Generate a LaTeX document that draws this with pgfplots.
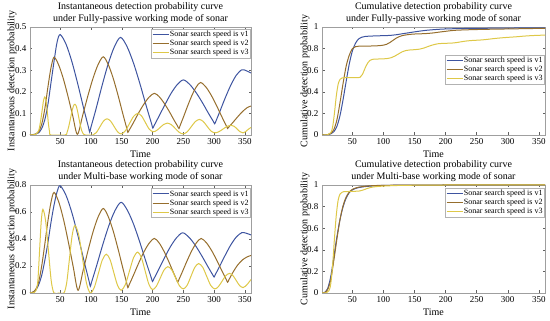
\documentclass[border=0pt]{standalone}
\usepackage{pgfplots}
\pgfplotsset{compat=1.18}
\usepackage{fontspec}
\setmainfont{Liberation Serif}
\definecolor{cA}{RGB}{62,84,160}
\definecolor{cB}{RGB}{150,110,45}
\definecolor{cC}{RGB}{222,200,72}
\pgfplotsset{
  myax/.style={
    scale only axis, height=108pt,
    xmin=1, xmax=360, xtick={50,100,...,350}, ymin=0,
    tick align=inside, major tick length=2.5pt,
    axis line style={gray!75, line width=0.4pt},
    every tick/.style={gray!75!black, line width=0.4pt},
    /pgf/number format/assume math mode=true,
    tick label style={font=\fontsize{9}{10}\selectfont},
    every axis title shift=0pt,
    title style={align=center, font=\fontsize{10}{12}\selectfont, at={(0.5,1)}, anchor=south, yshift=0pt},
    label style={font=\fontsize{10}{11}\selectfont},
    xlabel={Time},
    xlabel style={at={(axis description cs:0.5,-0.176)}, anchor=center},
    legend style={anchor=north east, font=\fontsize{8}{9}\selectfont, draw=gray!60, line width=0.4pt, inner sep=0.8pt, row sep=0pt, fill=white,
      nodes={inner sep=0.8pt, text height=6pt, text depth=1.6pt}},
    legend cell align=left,
    legend image code/.code={\draw[##1,line width=1pt] (0pt,0pt) -- (16pt,0pt);},
    every axis plot/.append style={smooth, line width=1pt, mark=none},
  }
}
\begin{document}
\begin{tikzpicture}
\useasboundingbox (0pt,0pt) rectangle (550pt,321pt);
% Top-left
\begin{axis}[myax, at={(30pt,186pt)}, anchor=south west, width=221pt, ymax=0.5, ytick={0,0.1,...,0.5},
  title={Instantaneous detection probability curve\\under Fully-passive working mode of sonar},
  ylabel={Instantaneous detection probability},
  ylabel style={at={(axis description cs:-0.082,0.5)}, anchor=center},
  legend style={at={(rel axis cs:0.997,0.985)}}]
\addplot[cA] coordinates {(1,0)(10,0.004)(15,0.01)(20,0.03)(25,0.07)(30,0.14)(35,0.24)(40,0.34)(45,0.43)(50,0.465)(59.6,0.420)(69.2,0.338)(78.8,0.234)(88.4,0.121)(96,0.036)(98,0.013)(100,0.036)(108,0.118)(118,0.228)(128,0.329)(138,0.408)(148,0.452)(158.5,0.410)(169,0.334)(179.5,0.238)(190,0.133)(198.5,0.052)(200.5,0.032)(202.5,0.043)(210.4,0.086)(220.3,0.141)(230.2,0.193)(240.1,0.233)(250,0.255)(260.2,0.235)(270.4,0.198)(280.6,0.152)(290.8,0.101)(299,0.062)(301,0.052)(303,0.064)(309.8,0.112)(318.6,0.175)(327.4,0.232)(336.2,0.277)(345,0.302)(352,0.298)(360,0.287)};
\addplot[cB] coordinates {(1,0)(10,0.004)(15,0.015)(20,0.05)(25,0.12)(30,0.22)(35,0.31)(40,0.36)(47.6,0.324)(55.2,0.260)(62.8,0.178)(70.4,0.089)(78,0.003)(86.4,0.089)(94.8,0.179)(103.2,0.261)(111.6,0.326)(120,0.362)(128,0.327)(136,0.264)(144,0.184)(152,0.096)(158,0.033)(160,0.012)(162,0.022)(168.6,0.055)(177.2,0.101)(185.8,0.142)(194.4,0.175)(203,0.193)(211,0.177)(219,0.147)(227,0.110)(235,0.069)(241,0.04)(243,0.03)(245,0.045)(250,0.081)(257,0.134)(264,0.183)(271,0.222)(278,0.243)(286.8,0.222)(295.6,0.183)(304.4,0.134)(313.2,0.081)(320,0.042)(322,0.03)(324,0.037)(330,0.056)(338,0.083)(346,0.108)(354,0.127)(360,0.134)};
\addplot[cC] coordinates {(1,0)(10,0.003)(15,0.02)(18,0.06)(21,0.12)(23,0.16)(25,0.176)(27,0.16)(29,0.11)(31,0.05)(33,0.012)(35,0)(58,0)(61,0.01)(64,0.04)(67,0.08)(70,0.12)(73,0.142)(76,0.135)(79,0.10)(82,0.055)(85,0.02)(88,0.004)(91,0)(103,0)(108.75,0.011)(114.5,0.0375)(120.25,0.064)(126,0.075)(131.75,0.065)(137.5,0.04)(143.25,0.015)(149,0.005)(155.75,0.019)(162.5,0.0525)(169.25,0.086)(176,0.1)(182.25,0.088)(188.5,0.0575)(194.75,0.027)(201,0.015)(206.75,0.021)(212.5,0.035)(218.25,0.049)(224,0.055)(230.5,0.048)(237,0.03)(243.5,0.012)(250,0.005)(256.5,0.015)(263,0.0385)(269.5,0.062)(276,0.072)(282.25,0.063)(288.5,0.041)(294.75,0.019)(301,0.01)(307.75,0.015)(314.5,0.0275)(321.25,0.04)(328,0.045)(332.75,0.04)(337.5,0.0275)(342.25,0.015)(347,0.01)(351,0.015)(355,0.025)(360,0.035)};
\legend{Sonar search speed is v1,Sonar search speed is v2,Sonar search speed is v3}
\end{axis}
% Top-right
\begin{axis}[myax, at={(322pt,186pt)}, anchor=south west, width=223pt, ymax=1, ytick={0,0.2,...,1},
  title={Cumulative detection probability curve\\under Fully-passive working mode of sonar},
  ylabel={Cumulative detection probability},
  ylabel style={at={(axis description cs:-0.076,0.5)}, anchor=center},
  legend style={at={(rel axis cs:0.997,0.745)}}]
\addplot[cA] coordinates {(1,0)(10,0.003)(15,0.01)(20,0.03)(25,0.08)(30,0.18)(35,0.33)(40,0.5)(45,0.66)(50,0.78)(55,0.85)(60,0.89)(65,0.905)(70,0.912)(80,0.916)(90,0.918)(100,0.92)(110,0.922)(120,0.928)(130,0.937)(140,0.946)(150,0.955)(160,0.963)(170,0.97)(180,0.975)(190,0.979)(200,0.982)(220,0.985)(240,0.987)(260,0.988)(280,0.989)(300,0.99)(330,0.992)(360,0.993)};
\addplot[cB] coordinates {(1,0)(10,0.003)(15,0.015)(20,0.05)(25,0.14)(30,0.3)(35,0.48)(40,0.64)(45,0.74)(50,0.8)(55,0.818)(60,0.822)(70,0.823)(80,0.824)(90,0.826)(100,0.832)(105,0.84)(110,0.855)(115,0.875)(120,0.895)(125,0.91)(130,0.92)(140,0.93)(150,0.935)(160,0.937)(170,0.94)(180,0.945)(190,0.953)(200,0.96)(210,0.967)(220,0.971)(240,0.975)(260,0.978)(280,0.98)(300,0.982)(330,0.985)(360,0.988)};
\addplot[cC] coordinates {(1,0)(10,0.002)(15,0.02)(18,0.07)(21,0.2)(24,0.36)(27,0.47)(30,0.515)(33,0.527)(36,0.53)(60,0.532)(63,0.54)(66,0.56)(69,0.6)(72,0.64)(75,0.67)(78,0.69)(82,0.7)(88,0.703)(100,0.705)(106,0.708)(112,0.715)(118,0.73)(124,0.75)(130,0.77)(136,0.782)(142,0.787)(150,0.79)(158,0.795)(165,0.805)(172,0.82)(180,0.835)(188,0.845)(196,0.848)(205,0.85)(212,0.852)(220,0.858)(228,0.866)(236,0.872)(245,0.876)(255,0.879)(265,0.884)(275,0.891)(285,0.897)(295,0.902)(305,0.906)(315,0.91)(325,0.915)(335,0.919)(345,0.922)(360,0.925)};
\legend{Sonar search speed is v1,Sonar search speed is v2,Sonar search speed is v3}
\end{axis}
% Bottom-left
\begin{axis}[myax, at={(30pt,28pt)}, anchor=south west, width=221pt, ymax=0.8, ytick={0,0.2,...,0.8},
  title={Instantaneous detection probability curve\\under Multi-base working mode of sonar},
  ylabel={Instantaneous detection probability},
  ylabel style={at={(axis description cs:-0.082,0.5)}, anchor=center},
  legend style={at={(rel axis cs:0.997,0.97)}}]
\addplot[cA] coordinates {(1,0)(5,0.005)(10,0.02)(15,0.06)(20,0.13)(25,0.24)(30,0.37)(35,0.52)(40,0.65)(45,0.75)(50,0.795)(59.8,0.72)(69.6,0.586)(79.4,0.415)(89.2,0.229)(97,0.087)(99,0.05)(101,0.08)(109,0.199)(119,0.355)(129,0.498)(139,0.61)(149,0.672)(159.2,0.613)(169.4,0.508)(179.6,0.373)(189.8,0.226)(198,0.113)(200,0.085)(202,0.103)(209.8,0.172)(219.6,0.262)(229.4,0.345)(239.2,0.41)(249,0.446)(259.2,0.413)(269.4,0.354)(279.6,0.279)(289.8,0.197)(298,0.133)(300,0.118)(302,0.136)(309,0.197)(318,0.279)(327,0.355)(336,0.414)(345,0.447)(352,0.443)(360,0.43)};
\addplot[cB] coordinates {(1,0)(5,0.005)(10,0.025)(15,0.08)(20,0.2)(25,0.36)(30,0.53)(35,0.67)(40,0.745)(47.8,0.673)(55.6,0.542)(63.4,0.375)(71.2,0.194)(79,0.02)(87.2,0.165)(95.4,0.317)(103.6,0.456)(111.8,0.565)(120,0.626)(128,0.567)(136,0.462)(144,0.327)(152,0.181)(158,0.075)(160,0.04)(162,0.06)(168.6,0.127)(177.2,0.218)(185.8,0.302)(194.4,0.368)(203,0.404)(210.6,0.372)(218.2,0.313)(225.8,0.239)(233.4,0.158)(239,0.1)(241,0.08)(243,0.1)(248.6,0.158)(256.2,0.239)(263.8,0.313)(271.4,0.372)(279,0.404)(287.6,0.372)(296.2,0.313)(304.8,0.239)(313.4,0.158)(320,0.098)(322,0.08)(324,0.097)(330,0.148)(338,0.205)(346,0.245)(354,0.268)(360,0.278)};
\addplot[cC] coordinates {(1,0)(8,0.003)(11,0.02)(13.75,0.09)(16.5,0.31)(19.25,0.53)(22,0.62)(26.5,0.53)(31,0.31)(35.5,0.09)(40,0.0)(48,0)(56,0)(60.5,0.073)(65,0.25)(69.5,0.427)(74,0.5)(80.25,0.427)(86.5,0.25)(92.75,0.073)(99,0)(105.5,0.042)(112,0.1435)(118.5,0.245)(125,0.287)(131,0.248)(137,0.1535)(143,0.059)(149,0.02)(155.75,0.061)(162.5,0.1615)(169.25,0.262)(176,0.303)(182,0.262)(188,0.164)(194,0.066)(200,0.025)(206.25,0.05)(212.5,0.11)(218.75,0.17)(225,0.195)(231.25,0.171)(237.5,0.1125)(243.75,0.054)(250,0.03)(256.25,0.057)(262.5,0.124)(268.75,0.19)(275,0.218)(281.5,0.191)(288,0.124)(294.5,0.057)(301,0.03)(307,0.047)(313,0.0875)(319,0.128)(325,0.145)(330.5,0.13)(336,0.0925)(341.5,0.055)(347,0.04)(351,0.05)(355,0.07)(360,0.1)};
\legend{Sonar search speed is v1,Sonar search speed is v2,Sonar search speed is v3}
\end{axis}
% Bottom-right
\begin{axis}[myax, at={(322pt,28pt)}, anchor=south west, width=223pt, ymax=1, ytick={0,0.2,...,1},
  title={Cumulative detection probability curve\\under Multi-base working mode of sonar},
  ylabel={Cumulative detection probability},
  ylabel style={at={(axis description cs:-0.076,0.5)}, anchor=center},
  legend style={at={(rel axis cs:0.997,0.975)}}]
\addplot[cA] coordinates {(1,0)(5,0.005)(10,0.04)(15,0.15)(20,0.33)(25,0.52)(30,0.68)(35,0.8)(40,0.88)(45,0.93)(50,0.955)(55,0.968)(60,0.976)(70,0.985)(80,0.99)(90,0.994)(100,0.996)(120,0.998)(150,0.999)(200,1)(360,1)};
\addplot[cB] coordinates {(1,0)(5,0.003)(10,0.03)(15,0.12)(20,0.3)(25,0.5)(30,0.68)(35,0.81)(40,0.89)(45,0.935)(50,0.96)(55,0.972)(60,0.98)(70,0.988)(80,0.993)(100,0.997)(150,0.999)(200,1)(360,1)};
\addplot[cC] coordinates {(1,0)(8,0.002)(12,0.02)(15,0.08)(18,0.25)(21,0.5)(24,0.72)(27,0.86)(30,0.915)(33,0.932)(36,0.938)(45,0.94)(55,0.942)(62,0.945)(68,0.955)(74,0.968)(80,0.978)(88,0.985)(100,0.99)(120,0.995)(150,0.998)(200,1)(360,1)};
\legend{Sonar search speed is v1,Sonar search speed is v2,Sonar search speed is v3}
\end{axis}
\end{tikzpicture}
\end{document}
